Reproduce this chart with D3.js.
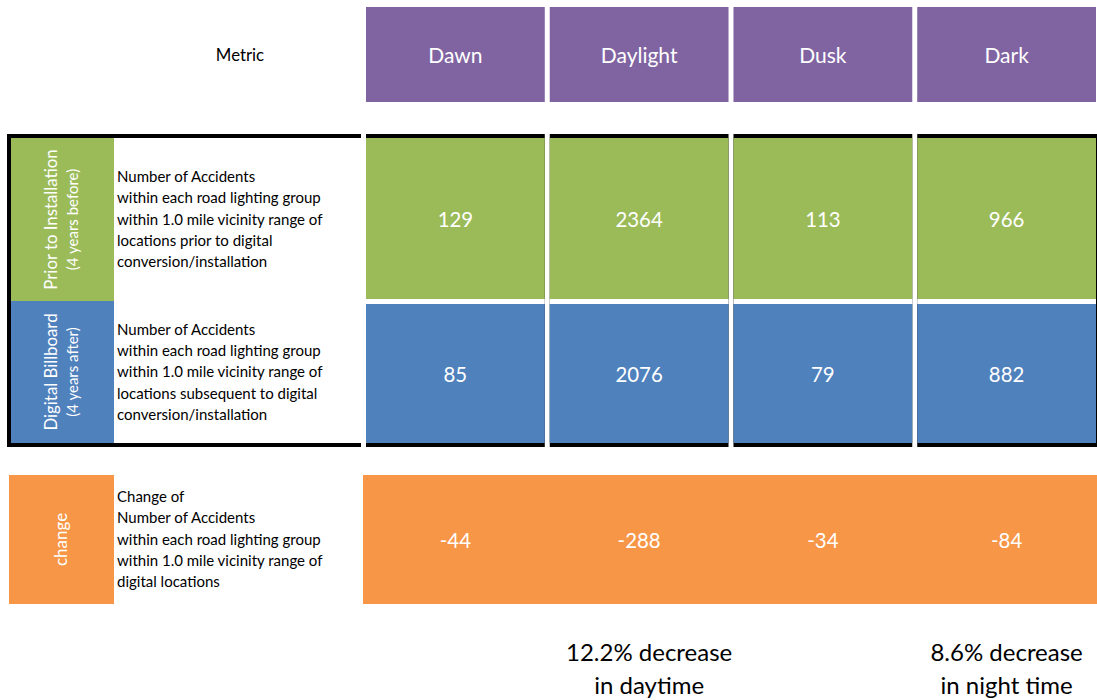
<!DOCTYPE html>
<html lang="en">
<head>
    <meta charset="UTF-8">
    <title>Digital Billboard Accidents by Road Lighting</title>
    <script src="https://d3js.org/d3.v7.min.js"></script>
    <style>
        body {
            margin: 0;
            background: #fff;
            font-family: Lato, "Open Sans", sans-serif;
        }
        svg text {
            font-family: Lato, "Open Sans", sans-serif;
        }
    </style>
</head>
<body>
    <div id="chart"></div>

    <script>
        // data
        const categories = ["Dawn", "Daylight", "Dusk", "Dark"];
        const beforeValues = [129, 2364, 113, 966];
        const afterValues = [85, 2076, 79, 882];
        const changeValues = [-44, -288, -34, -84];

        const rowTitles = [
            ["Prior to Installation", "(4 years before)"],
            ["Digital Billboard", "(4 years after)"],
            ["change"]
        ];
        const rowDescriptions = [
            ["Number of Accidents", "within each road lighting group", "within 1.0 mile vicinity range of", "locations prior to digital", "conversion/installation"],
            ["Number of Accidents", "within each road lighting group", "within 1.0 mile vicinity range of", "locations subsequent to digital", "conversion/installation"],
            ["Change of", "Number of Accidents", "within each road lighting group", "within 1.0 mile vicinity range of", "digital locations"]
        ];
        const summaryNotes = [
            { category: "Daylight", lines: ["12.2% decrease", "in daytime"] },
            { category: "Dark", lines: ["8.6% decrease", "in night time"] }
        ];
        const metricLabel = "Metric";

        const width = 1097;
        const height = 700;

        const purple = "#8064A2";
        const green = "#9BBB59";
        const blue = "#4F81BD";
        const orange = "#F79646";

        // layout of the rows
        const rows = {
            header: { y: 7, h: 95 },
            before: { y: 138, h: 161 },
            after: { y: 304, h: 139 },
            change: { y: 475, h: 129 }
        };
        const frameTop = 134, frameBottom = 447, line = 4;

        const svg = d3.select("#chart")
            .append("svg")
            .attr("width", width)
            .attr("height", height);

        const x = d3.scaleBand()
            .domain(categories)
            .range([366, 1096])
            .paddingInner(0.027)
            .paddingOuter(0);

        // header row
        svg.append("text")
            .attr("x", 240)
            .attr("y", rows.header.y + rows.header.h / 2 + 1)
            .attr("dy", "0.35em")
            .attr("text-anchor", "middle")
            .attr("font-size", 16.8)
            .attr("fill", "#000")
            .text(metricLabel);

        const head = svg.selectAll(".head")
            .data(categories)
            .enter()
            .append("g")
            .attr("class", "head");

        head.append("rect")
            .attr("x", d => x(d))
            .attr("y", rows.header.y)
            .attr("width", x.bandwidth())
            .attr("height", rows.header.h)
            .attr("fill", purple);

        head.append("text")
            .attr("x", d => x(d) + x.bandwidth() / 2)
            .attr("y", rows.header.y + rows.header.h / 2 + 1)
            .attr("dy", "0.35em")
            .attr("text-anchor", "middle")
            .attr("font-size", 21)
            .attr("fill", "#fff")
            .text(d => d);

        // black frame behind the two measured rows
        svg.append("rect")
            .attr("x", 7)
            .attr("y", frameTop)
            .attr("width", 361 - 7)
            .attr("height", frameBottom - frameTop)
            .attr("fill", "#000");
        svg.append("rect")
            .attr("x", 11)
            .attr("y", frameTop + line)
            .attr("width", 361 - 11)
            .attr("height", frameBottom - frameTop - 2 * line)
            .attr("fill", "#fff");

        svg.selectAll(".frame-col")
            .data(categories)
            .enter()
            .append("rect")
            .attr("class", "frame-col")
            .attr("x", d => x(d))
            .attr("y", frameTop)
            .attr("width", (d, i) => x.bandwidth() + (i === categories.length - 1 ? line : 0))
            .attr("height", frameBottom - frameTop)
            .attr("fill", "#000");

        // left label cells
        const labelX = 11, labelW = 103;
        const labelRows = [
            { y: rows.before.y, h: 301 - rows.before.y, color: green },
            { y: 301, h: rows.after.y + rows.after.h - 301, color: blue },
            { y: rows.change.y, h: rows.change.h, color: orange, x: 9, w: 105 }
        ];

        labelRows.forEach((r, i) => {
            const lx = r.x !== undefined ? r.x : labelX;
            const lw = r.w !== undefined ? r.w : labelW;
            svg.append("rect")
                .attr("x", lx)
                .attr("y", r.y)
                .attr("width", lw)
                .attr("height", r.h)
                .attr("fill", r.color);

            const cx = lx + lw / 2;
            const cy = r.y + r.h / 2;
            const titles = rowTitles[i];
            const t = svg.append("text")
                .attr("transform", `translate(${cx},${cy}) rotate(-90)`)
                .attr("text-anchor", "middle")
                .attr("fill", "#fff");
            if (titles.length === 1) {
                t.append("tspan")
                    .attr("x", 0)
                    .attr("y", 0)
                    .attr("dy", "0.35em")
                    .attr("font-size", 17)
                    .text(titles[0]);
            } else {
                t.append("tspan")
                    .attr("x", 0)
                    .attr("y", -11.5)
                    .attr("dy", "0.35em")
                    .attr("font-size", 16.8)
                    .text(titles[0]);
                t.append("tspan")
                    .attr("x", 0)
                    .attr("y", 10.5)
                    .attr("dy", "0.35em")
                    .attr("font-size", 15)
                    .text(titles[1]);
            }

            // description text
            const lines = rowDescriptions[i];
            const lineH = 21.3;
            const d = svg.append("text")
                .attr("font-size", 15)
                .attr("fill", "#000");
            lines.forEach((ln, j) => {
                d.append("tspan")
                    .attr("x", 117)
                    .attr("y", cy + (j - (lines.length - 1) / 2) * lineH)
                    .attr("dy", "0.35em")
                    .text(ln);
            });
        });

        // value cells
        const valueRows = [
            { key: "before", values: beforeValues, color: green },
            { key: "after", values: afterValues, color: blue }
        ];

        valueRows.forEach(vr => {
            const r = rows[vr.key];
            const cells = svg.selectAll(".cell-" + vr.key)
                .data(categories.map((c, i) => ({ category: c, value: vr.values[i] })))
                .enter()
                .append("g")
                .attr("class", "cell-" + vr.key);

            cells.append("rect")
                .attr("x", d => x(d.category))
                .attr("y", r.y)
                .attr("width", x.bandwidth())
                .attr("height", r.h)
                .attr("fill", vr.color);

            cells.append("text")
                .attr("x", d => x(d.category) + x.bandwidth() / 2)
                .attr("y", r.y + r.h / 2 + 1)
                .attr("dy", "0.35em")
                .attr("text-anchor", "middle")
                .attr("font-size", 20.4)
                .attr("fill", "#fff")
                .text(d => d.value);
        });

        // white gap between the two rows in the value columns
        svg.selectAll(".gap")
            .data(categories)
            .enter()
            .append("rect")
            .attr("class", "gap")
            .attr("x", d => x(d))
            .attr("y", rows.before.y + rows.before.h)
            .attr("width", x.bandwidth())
            .attr("height", rows.after.y - rows.before.y - rows.before.h)
            .attr("fill", "#fff");

        // change row, one wide block
        svg.append("rect")
            .attr("x", 363)
            .attr("y", rows.change.y)
            .attr("width", width - 363)
            .attr("height", rows.change.h)
            .attr("fill", orange);

        svg.selectAll(".change-val")
            .data(categories.map((c, i) => ({ category: c, value: changeValues[i] })))
            .enter()
            .append("text")
            .attr("class", "change-val")
            .attr("x", d => x(d.category) + x.bandwidth() / 2)
            .attr("y", rows.change.y + rows.change.h / 2 + 1)
            .attr("dy", "0.35em")
            .attr("text-anchor", "middle")
            .attr("font-size", 20.4)
            .attr("fill", "#fff")
            .text(d => d.value);

        // summary notes under the table
        summaryNotes.forEach(n => {
            const offset = n.category === "Daylight" ? 10 : 0;
            const t = svg.append("text")
                .attr("text-anchor", "middle")
                .attr("font-size", 24)
                .attr("fill", "#000");
            n.lines.forEach((ln, j) => {
                t.append("tspan")
                    .attr("x", x(n.category) + x.bandwidth() / 2 + offset)
                    .attr("y", 653 + j * 33)
                    .attr("dy", "0.35em")
                    .text(ln);
            });
        });
    </script>
</body>
</html>
